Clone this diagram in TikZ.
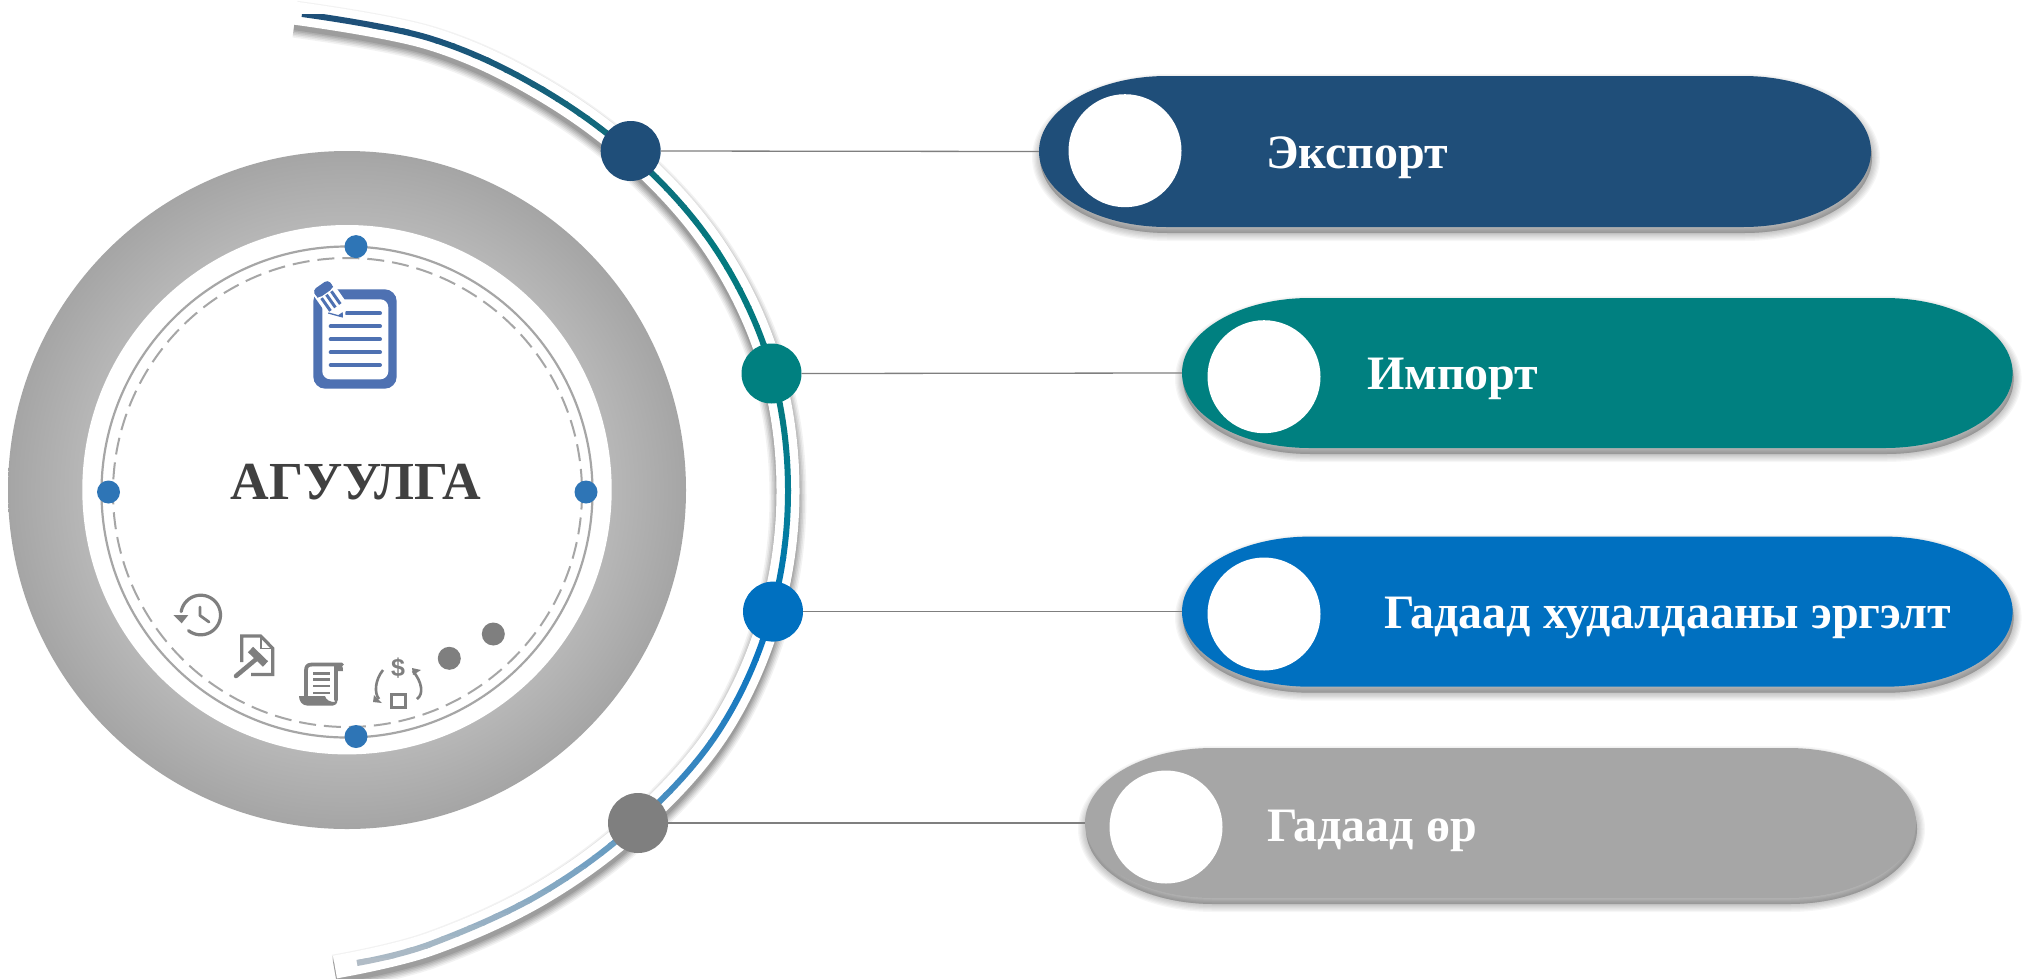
\documentclass[tikz,border=0pt]{standalone}
\usepackage{fontspec}
\setmainfont{Liberation Serif}
\newfontfamily\iconsans{Liberation Sans}
\definecolor{cNavy}{HTML}{1F4E79}
\definecolor{cTeal}{HTML}{008080}
\definecolor{cBlue}{HTML}{0070C0}
\definecolor{cGrey}{HTML}{A6A6A6}
\definecolor{cDot}{HTML}{7F7F7F}
\definecolor{cMark}{HTML}{2E75B6}
\definecolor{cDoc}{HTML}{4E71B2}
\definecolor{cTitle}{HTML}{404040}
\definecolor{sA}{HTML}{1F4E79}
\definecolor{sB}{HTML}{116A7C}
\definecolor{sC}{HTML}{04797F}
\definecolor{sD}{HTML}{047E9C}
\definecolor{sE}{HTML}{0070C0}
\definecolor{sF}{HTML}{3B88C0}
\definecolor{sG}{HTML}{80A6C2}
\definecolor{sH}{HTML}{B4BEC6}
\definecolor{rA}{HTML}{B7B7B7}
\definecolor{rB}{HTML}{A5A5A5}
\pgfdeclareradialshading{ringshade}{\pgfpointorigin}{color(0bp)=(rA); color(19.5bp)=(rA); color(25bp)=(rB); color(50bp)=(rB)}
\tikzset{
  x=1pt,y=-1pt,
  markdot/.style={circle,fill=cMark,inner sep=0pt,minimum size=23pt},
  bigdot/.style={circle,inner sep=0pt,minimum size=60pt},
  holedot/.style={circle,fill=white,inner sep=0pt,minimum size=113pt},
  pillbox/.style={inner sep=0pt,minimum height=150pt},
  wire/.style={draw=cDot,line width=1.3pt},
  pilltext/.style={anchor=base west,inner sep=0pt,text=white,font=\fontsize{48}{58}\selectfont\bfseries},
  icon/.style={draw=cDot,line width=3.2pt,line cap=round,line join=round},
  iconfill/.style={fill=cDot,draw=none}
}
\def\spinepath{plot[smooth,tension=.61] coordinates {(302,14)(430,38.4)(540.8,88.6)(638.5,160.5)(718.6,253.5)(770.7,366.3)(788,490)(771.2,613.8)(720.8,727.8)(639.6,820.6)(541.75,893.1)(430.6,944)(357,963)}}
\def\bandpath{plot[smooth,tension=.61] coordinates {(295,13.2)(430,38.4)(540.8,88.6)(638.5,160.5)(718.6,253.5)(770.7,366.3)(788,490)(771.2,613.8)(720.8,727.8)(639.6,820.6)(541.75,893.1)(430.6,944)(335,967)}}
\newcommand{\pillshape}[5]{%
  \pgfmathsetmacro\pA{#1}\pgfmathsetmacro\pB{#3}%
  \pgfmathsetmacro\pT{#2}\pgfmathsetmacro\pD{#4}%
  \pgfmathsetmacro\pM{(\pT+\pD)/2}\pgfmathsetmacro\pR{(\pD-\pT)/2}%
  \pgfmathsetmacro\pK{\pR*.5523}%
  \pgfmathsetmacro\pXa{\pA+128}\pgfmathsetmacro\pXb{\pB-128}%
  \pgfmathsetmacro\pCa{\pXa-70.7}\pgfmathsetmacro\pCb{\pXb+70.7}%
  \foreach \w in {16,13.5,11,8.5,6,3.5,1}{%
    \path[draw=black,fill=black,draw opacity=.035,fill opacity=.035,line width=\w pt,shift={(1,6)}]
      (\pA,\pM) .. controls (\pA,\pM-\pK) and (\pCa,\pT) .. (\pXa,\pT) -- (\pXb,\pT)
      .. controls (\pCb,\pT) and (\pB,\pM-\pK) .. (\pB,\pM)
      .. controls (\pB,\pM+\pK) and (\pCb,\pD) .. (\pXb,\pD) -- (\pXa,\pD)
      .. controls (\pCa,\pD) and (\pA,\pM+\pK) .. (\pA,\pM) -- cycle;
  }%
  \fill[#5]
      (\pA,\pM) .. controls (\pA,\pM-\pK) and (\pCa,\pT) .. (\pXa,\pT) -- (\pXb,\pT)
      .. controls (\pCb,\pT) and (\pB,\pM-\pK) .. (\pB,\pM)
      .. controls (\pB,\pM+\pK) and (\pCb,\pD) .. (\pXb,\pD) -- (\pXa,\pD)
      .. controls (\pCa,\pD) and (\pA,\pM+\pK) .. (\pA,\pM) -- cycle;
}
\begin{document}
\begin{tikzpicture}
\useasboundingbox (0,0) rectangle (2023,978);
\fill[white] (0,0) rectangle (2023,978);

% central disc
\shade[shading=ringshade] (347,490) circle [radius=339];
\fill[white] (347,489.7) circle [radius=264.7];
\draw[cGrey,line width=2.2pt] (347,492) circle [radius=245.5];
\draw[cGrey,line width=2pt,dash pattern=on 17pt off 8pt] (347.5,492.5) circle [radius=234.5];

\node[markdot] (m1) at (356,246.6) {};
\node[markdot] (m2) at (356,736.5) {};
\node[markdot] (m3) at (108.5,492) {};
\node[markdot] (m4) at (586,492) {};

\node[anchor=base,inner sep=0pt,text=cTitle,font=\fontsize{53.5}{60}\selectfont\bfseries] (title) at (356,499) {АГУУЛГА};

% document icon
\fill[cDoc,rounded corners=12pt] (313.3,289.3) rectangle (396.7,388.7);
\fill[white,rounded corners=8pt] (322.3,299.3) rectangle (388.3,379.3);
\foreach \ly/\lx in {313.3/346.7,326.3/330.7,339.3/330.7,352.3/330.7,365/330.7}{
  \draw[cDoc,line width=4pt,line cap=round] (\lx,\ly) -- (380,\ly);
}
\begin{scope}[shift={(320.3,285)},rotate=-55]
  \fill[white,rounded corners=2pt] (-2,-11.5) -- (28,-11.5) -- (43,0) -- (28,11.5) -- (-2,11.5) -- cycle;
  \fill[cDoc,rounded corners=4pt] (0,-9.5) rectangle (10,9.5);
  \fill[cDoc] (3,-9.5) rectangle (9,9.5);
  \foreach \v in {-7,-1,5}{\fill[cDoc] (11.5,\v) rectangle (27,\v+3);}
  \draw[cDoc,line width=1.3pt] (27.5,9.5) -- (39,0) ;
  \fill[cDoc] (35,-2.8) -- (39.5,0) -- (35,2.8) -- cycle;
\end{scope}

% clock icon
\draw[icon] plot[domain=190:488,samples=50] ({200.7+19.8*cos(\x)},{615+19.8*sin(\x)});
\fill[cDot] (173.3,615) -- (188.3,615) -- (181.7,623.3) -- cycle;
\draw[cDot,line width=2.8pt,line cap=round,line join=round] (200,607) -- (200,615.5) -- (209,622);

% gavel document icon
\draw[icon,line cap=butt,line join=miter] (241.7,662) -- (241.7,636) -- (260.7,636) -- (272.7,648.3) -- (272.7,674.5) -- (251,674.5);
\draw[cDot,line width=1.6pt] (260.7,636) -- (260.7,648.3) -- (272.7,648.3);
\draw[cDot,line width=4.5pt,line cap=round] (236,676) -- (256,659.3);
\draw[cDot,line width=7.5pt] (250.5,649.5) -- (265.5,664);

% scroll icon
\draw[icon,line width=3.8pt,line join=round] (336,700) -- (336,667) .. controls (336,665) and (338,664.5) .. (342,664.5) -- (312,664.5) .. controls (307,664.5) and (306,667) .. (306,671) -- (306,696);
\fill[cDot] (337.5,663) .. controls (342,663) and (343,667) .. (343,671) -- (337.5,671) -- cycle;
\foreach \ly in {673.3,679.5,686,692.7}{\draw[cDot,line width=2.4pt] (313,\ly) -- (330,\ly);}
\fill[cDot] (299,696) -- (325,696) .. controls (326,700) and (330,702) .. (334.5,702) -- (337.5,698) -- (337.5,700) .. controls (337.5,704) and (335,705.7) .. (331,705.7) -- (308,705.7) .. controls (302,705.7) and (299,701) .. (299,696) -- cycle;

% dollar icon
\node[inner sep=0pt,text=cDot,font=\iconsans\bfseries\fontsize{25}{25}\selectfont] (dollar) at (398,668) {\$};
\draw[cDot,line width=2.8pt] (391.7,694.3) rectangle (405.7,707.7);
\draw[cDot,line width=2.6pt] (383,670) .. controls (375,680) and (374,693) .. (379,699);
\fill[cDot] (374,695) -- (382,703) -- (373,702) -- cycle;
\draw[cDot,line width=2.6pt] (413,671) .. controls (422,682) and (424,694) .. (417,699);
\fill[cDot] (412,668) -- (421,670) -- (413,675) -- cycle;

% two plain dots
\node[circle,fill=cDot,inner sep=0pt,minimum size=23pt] (g1) at (449.3,658.3) {};
\node[circle,fill=cDot,inner sep=0pt,minimum size=23pt] (g2) at (493.3,634) {};

% sweeping arc: soft shadow, white band, gradient line
\foreach \w/\op in {37/.05,34/.06,31/.07,28/.08,25/.09,22/.1}{
  \draw[black,draw opacity=\op,line width=\w pt,shift={(0,6)}] \bandpath;
}
\draw[white,line width=23pt] \bandpath;
\foreach \ya/\yb/\colA/\colB in {14/130/sA/sB,130/250/sB/sC,250/400/sC/sC,400/520/sC/sD,520/620/sD/sE,620/780/sE/sF,780/880/sF/sG,880/970/sG/sH}{
  \foreach \i in {0,...,7}{
    \pgfmathsetmacro\ys{\ya+(\yb-\ya)*\i/8}
    \pgfmathsetmacro\ye{\ya+(\yb-\ya)*(\i+1)/8+0.6}
    \pgfmathsetmacro\pc{100*(\i+.5)/8}
    \begin{scope}
      \clip (250,\ys) rectangle (850,\ye);
      \draw[\colB!\pc!\colA,line width=6pt] \spinepath;
    \end{scope}
  }
}

% connectors' end nodes and pills
\pillshape{1039}{76}{1871}{227}{cNavy}
\pillshape{1182}{298}{2012.6}{448}{cTeal}
\pillshape{1182}{536.6}{2012.6}{686.7}{cBlue}
\pillshape{1085}{748}{1916}{898}{cGrey}
\node[pillbox,minimum width=832pt] (p1) at (1455,151.5) {};
\node[pillbox,minimum width=830.6pt] (p2) at (1597.3,373) {};
\node[pillbox,minimum width=830.6pt] (p3) at (1597.3,611.6) {};
\node[pillbox,minimum width=831pt] (p4) at (1500.5,823) {};

\node[holedot] (h1) at (1125,150.7) {};
\node[holedot] (h2) at (1264,376.7) {};
\node[holedot] (h3) at (1264,614) {};
\node[holedot] (h4) at (1166,827) {};

\node[bigdot,fill=cNavy] (d1) at (630.7,151) {};
\node[bigdot,fill=cTeal] (d2) at (771.5,373.5) {};
\node[bigdot,fill=cBlue] (d3) at (773,611.6) {};
\node[bigdot,fill=cDot] (d4) at (638,823) {};

\draw[wire] (d1.east) -- (p1.west);
\draw[wire] (d2.east) -- (p2.west);
\draw[wire] (d3.east) -- (p3.west);
\draw[wire] (d4.east) -- (p4.west);

\node[pilltext] (t1) at (1266,168) {Экспорт};
\node[pilltext] (t2) at (1367,389) {Импорт};
\node[pilltext] (t3) at (1384,628) {Гадаад худалдааны эргэлт};
\node[pilltext] (t4) at (1267,841) {Гадаад өр};
\end{tikzpicture}
\end{document}
